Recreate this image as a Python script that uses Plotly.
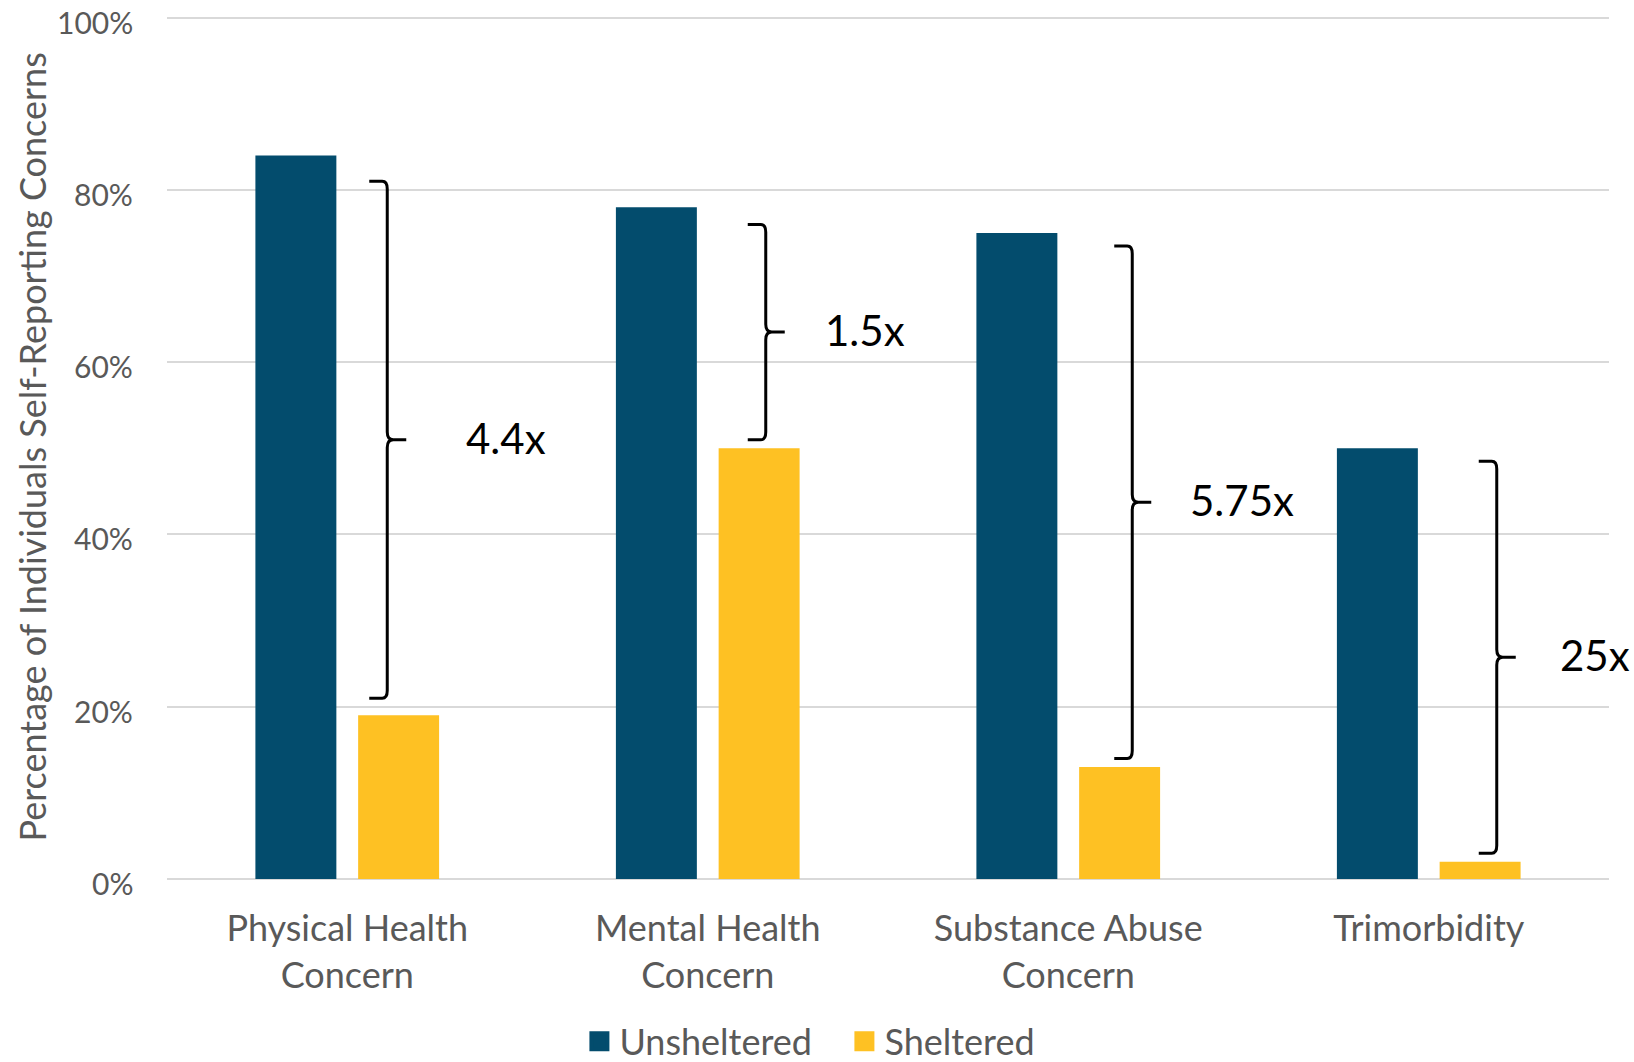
import plotly.graph_objects as go

# ---- data ----
categories = ["Physical Health<br>Concern", "Mental Health<br>Concern",
              "Substance Abuse<br>Concern", "Trimorbidity"]
unsheltered = [84, 78, 75, 50]
sheltered = [19, 50, 13, 2]
ratio_labels = ["4.4x", "1.5x", "5.75x", "25x"]
# brace spans (top, bottom) in percent
brace_top = [81, 76, 73.5, 48.5]
brace_bottom = [21, 51, 14, 3]
y_ticks = [0, 20, 40, 60, 80, 100]
y_ticktext = ["0%", "20%", "40%", "60%", "80%", "100%"]
y_title = "Percentage of Individuals Self-Reporting Concerns"

# ---- styling / annotation layout ----
C_UNSH = "#034C6D"
C_SHEL = "#FEC123"
GRAY = "#595959"
GRID = "#D9D9D9"
FONT = "Lato"
brace_dx = [40, 58, 64, 68]      # px offset of brace line from category centre
label_gap = [77, 57, 56, 61]     # px from brace line to label start

fig = go.Figure()
fig.add_trace(go.Bar(x=categories, y=unsheltered, name="Unsheltered",
                     marker=dict(color=C_UNSH, line=dict(width=0)), showlegend=False))
fig.add_trace(go.Bar(x=categories, y=sheltered, name="Sheltered",
                     marker=dict(color=C_SHEL, line=dict(width=0)), showlegend=False))
# legend entries
for name, col in [("Unsheltered", C_UNSH), ("Sheltered", C_SHEL)]:
    fig.add_trace(go.Scatter(x=[None], y=[None], mode="markers", name=name,
                             marker=dict(symbol="square", size=16, color=col,
                                         line=dict(color=col, width=4))))

shapes = []
annotations = []
for i in range(len(categories)):
    top, bot = brace_top[i], brace_bottom[i]
    mid = (top + bot) / 2
    d = brace_dx[i]
    r = 0.9
    path = (f"M {d-18},{top} L {d-5},{top} Q {d},{top} {d},{top - r} "
            f"L {d},{mid + r} Q {d},{mid} {d+6},{mid} L {d+19},{mid} "
            f"M {d+6},{mid} Q {d},{mid} {d},{mid - r} "
            f"L {d},{bot + r} Q {d},{bot} {d-5},{bot} L {d-18},{bot}")
    shapes.append(dict(type="path", xref="x", yref="y", xsizemode="pixel",
                       xanchor=i, path=path, line=dict(color="black", width=3),
                       fillcolor="rgba(0,0,0,0)"))
    annotations.append(dict(x=i, y=mid, xref="x", yref="y", text=ratio_labels[i],
                            showarrow=False, xanchor="left", yanchor="middle",
                            xshift=d + label_gap[i], yshift=2,
                            font=dict(family=FONT, size=42, color="black")))

# y tick labels (sit slightly below their gridlines, as in the reference)
for v, t in zip(y_ticks, y_ticktext):
    annotations.append(dict(x=0, xref="paper", y=v, yref="y", text=t,
                            showarrow=False, xanchor="right", yanchor="middle",
                            xshift=-32, yshift=-4,
                            font=dict(family=FONT, size=30, color=GRAY)))
# y axis title
annotations.append(dict(x=0, xref="paper", y=0.5, yref="paper", text=y_title,
                        textangle=-90, showarrow=False, xanchor="center",
                        yanchor="middle", xshift=-136,
                        font=dict(family=FONT, size=36, color=GRAY)))

fig.update_layout(
    width=1634, height=1062,
    margin=dict(l=167, r=25, t=16, b=183, autoexpand=False),
    plot_bgcolor="white", paper_bgcolor="white",
    barmode="group", bargap=0.43, bargroupgap=0.212,
    font=dict(family=FONT, color=GRAY),
    shapes=shapes, annotations=annotations,
    legend=dict(orientation="h", x=0.286, xanchor="left", xref="paper",
                y=-0.188, yanchor="middle", font=dict(size=36, color=GRAY),
                itemwidth=30, entrywidth=220, bgcolor="rgba(0,0,0,0)"),
)
fig.update_yaxes(range=[0, 100.2], tickvals=y_ticks, showticklabels=False,
                 showgrid=True, gridcolor=GRID, gridwidth=1.5,
                 zeroline=True, zerolinecolor=GRID, zerolinewidth=1.5,
                 showline=False)
fig.update_xaxes(range=[-0.5, 3.5], showline=False,
                 tickfont=dict(size=36, color=GRAY), ticklabelstandoff=25)

fig.write_html("out.html", config={"displayModeBar": False},
               post_script="document.body.style.margin='0px';")
